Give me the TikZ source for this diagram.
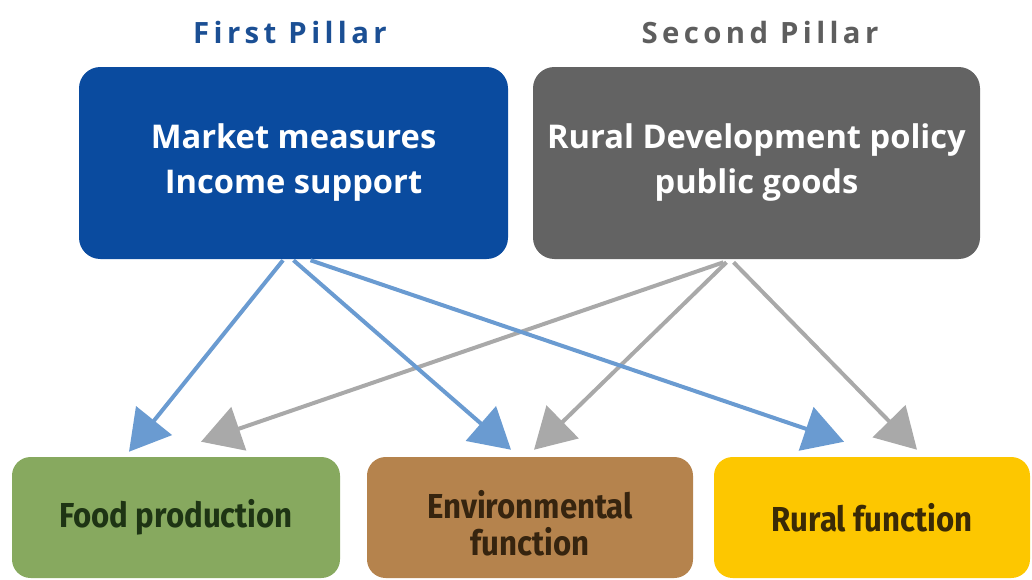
\documentclass[tikz,border=0pt]{standalone}
\usepackage{fontspec}
\setmainfont{Open Sans}
\newfontfamily\condfont[FakeStretch=0.9]{Fira Sans}
\usetikzlibrary{arrows.meta,calc}

\definecolor{pillarblue}{HTML}{0A4B9F}
\definecolor{pillargray}{HTML}{636363}
\definecolor{titleblue}{HTML}{1B4F94}
\definecolor{titlegray}{HTML}{5E5E5E}
\definecolor{arrowblue}{HTML}{6A9BD1}
\definecolor{arrowgray}{HTML}{A9A9A9}
\definecolor{foodgreen}{HTML}{87A95F}
\definecolor{envbrown}{HTML}{B5834D}
\definecolor{ruralyellow}{HTML}{FDC700}
\definecolor{foodtext}{HTML}{1E3414}
\definecolor{envtext}{HTML}{36240F}
\definecolor{ruraltext}{HTML}{3A2A06}

\tikzset{
  title/.style={font=\bfseries\addfontfeature{LetterSpace=15}\fontsize{22}{24}\selectfont},
  pillar/.style={rounded corners=16pt, text=white, align=center, inner sep=0pt,
    minimum height=144pt, font=\bfseries\fontsize{24.5}{33.75}\selectfont},
  func/.style={rounded corners=14pt, align=center, inner sep=0pt,
    minimum height=90.75pt, font=\condfont\bfseries\fontsize{26}{27.75}\selectfont},
  bluearrow/.style={draw=arrowblue, line width=3pt, -{Triangle[length=30pt,width=34pt]}},
  grayarrow/.style={draw=arrowgray, line width=3pt, -{Triangle[length=30pt,width=34pt]}}
}

\begin{document}
\begin{tikzpicture}[x=0.75pt,y=-0.75pt]
\useasboundingbox (0,0) rectangle (1032,579);

% the two pillars
\node[title, text=titleblue] (t1) at (290,32) {First Pillar};
\node[title, text=titlegray] (t2) at (760,32) {Second Pillar};
\node[pillar, fill=pillarblue, minimum width=321.75pt] (first) at (293.5,163) {Market measures\\Income support};
\node[pillar, fill=pillargray, minimum width=335.25pt] (second) at (756.5,163) {Rural Development policy\\public goods};

% the three functions
\node[func, fill=foodgreen, text=foodtext, minimum width=246pt] (food) at (176,517.5) {Food production};
\node[func, fill=envbrown, text=envtext, minimum width=244.5pt] (env) at (530,517.5) {\rule{0pt}{30pt}Environmental\\function};
\node[func, fill=ruralyellow, text=ruraltext, minimum width=237pt] (rural) at (872,517.5) {Rural function};

\draw[grayarrow] ($(second.south)+(-33,3)$) -- ($(food.north)+(25,-15)$);
\draw[grayarrow] ($(second.south)+(-30,3)$) -- ($(env.north)+(4,-7)$);
\draw[grayarrow] ($(second.south)+(-23,3)$) -- ($(rural.north)+(45,-7)$);
\draw[bluearrow] ($(first.south)+(-10.5,1)$) -- ($(food.north)+(-47,-5)$);
\draw[bluearrow] ($(first.south)+(0,1)$) -- ($(env.north)+(-19,-7)$);
\draw[bluearrow] ($(first.south)+(17,1)$) -- ($(rural.north)+(-28,-15)$);
\end{tikzpicture}
\end{document}
